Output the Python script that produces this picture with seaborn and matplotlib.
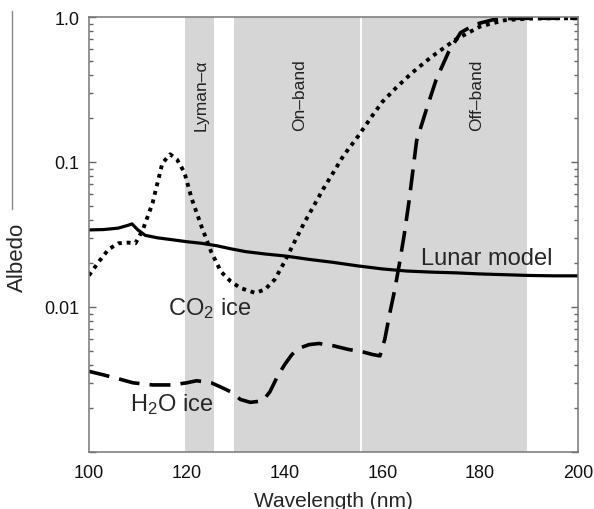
import matplotlib
matplotlib.use('Agg')
from matplotlib import pyplot as plt
from matplotlib import ticker
from matplotlib.lines import Line2D
import numpy as np
import seaborn as sns

# data (wavelength in nm, albedo)
lunar_wl = [100, 103, 106, 108, 108.8, 110, 111.5, 114, 117, 120, 123, 126, 129, 132, 136,
            140, 145, 150, 155, 160, 165, 170, 175, 180, 185, 190, 195, 200]
lunar_alb = [0.0340, 0.0342, 0.0350, 0.0366, 0.0374, 0.0340, 0.0312, 0.0300, 0.0291, 0.0282,
             0.0275, 0.0265, 0.0252, 0.0241, 0.0232, 0.0225, 0.0213, 0.0203, 0.0192, 0.0183,
             0.0177, 0.0174, 0.0172, 0.0169, 0.0167, 0.0165, 0.0164, 0.0164]

co2_wl = [100, 102, 104, 106, 108, 109.5, 111, 113, 115, 116.6, 118, 119.5, 121, 123, 125, 127,
          129, 131, 134, 136, 138, 140, 142, 144, 146, 148, 150, 152, 155, 158, 160, 163, 166,
          170, 175, 180, 185, 190, 195, 200]
co2_alb = [0.0165, 0.0205, 0.025, 0.0275, 0.0278, 0.0275, 0.034, 0.052, 0.098, 0.113, 0.104,
           0.085, 0.056, 0.036, 0.024, 0.0175, 0.015, 0.0135, 0.0125, 0.0132, 0.0155, 0.0205,
           0.028, 0.038, 0.05, 0.066, 0.085, 0.11, 0.15, 0.21, 0.26, 0.33, 0.41, 0.53, 0.70,
           0.86, 0.95, 0.975, 0.98, 0.98]

h2o_wl = [100, 103, 106, 109, 113, 117, 120, 122, 125, 127, 129, 131, 133, 135.5, 137, 138.5,
          140, 141.5, 143, 145, 147, 150, 153, 156, 158, 159.5, 160.5, 161.5, 162.5, 163.5,
          164.5, 165.5, 167, 169, 171, 173.5, 176, 179, 182.5, 185.5, 188, 192, 196, 200]
h2o_alb = [0.0036, 0.0034, 0.0032, 0.0030, 0.0029, 0.0029, 0.0030, 0.0031, 0.0030, 0.0028,
           0.0026, 0.0023, 0.0022, 0.00225, 0.0026, 0.0033, 0.0040, 0.0047, 0.0052, 0.0055,
           0.0056, 0.0054, 0.0051, 0.0049, 0.0047, 0.0046, 0.006, 0.009, 0.013, 0.020, 0.032,
           0.055, 0.14, 0.23, 0.37, 0.57, 0.78, 0.89, 0.955, 0.975, 0.98, 0.98, 0.98, 0.98]

band_names = ['Lyman\u2013\u03b1', 'On\u2013band', 'Off\u2013band']
band_lo = [119.57, 129.57, 155.57]
band_hi = [125.57, 155.57, 189.57]
band_text_x = [123.0, 143.1, 179.3]

x_ticks = [100, 120, 140, 160, 180, 200]
y_ticks = [0.01, 0.1, 1.0]
y_ticklabels = ['0.01', '0.1', '1.0']

sns.set_style("ticks")
plt.rcParams['font.family'] = ['Liberation Sans', 'DejaVu Sans']
plt.rcParams['mathtext.default'] = 'regular'

fig = plt.figure(figsize=(5.94, 5.1), dpi=100)
ax = fig.add_axes([0.1498, 0.1118, 0.8232, 0.8529])

# shaded instrument bands
for lo, hi in zip(band_lo, band_hi):
    ax.axvspan(lo, hi, color='#d6d6d6', lw=0, zorder=0)
ax.axvline(155.57, color='white', lw=1.3, zorder=0.5)

sns.lineplot(x=lunar_wl, y=lunar_alb, ax=ax, color='black', lw=2.3, estimator=None, sort=False)
sns.lineplot(x=co2_wl, y=co2_alb, ax=ax, color='black', lw=2.8, estimator=None, sort=False,
             linestyle=(0, (1.0, 1.25)))
sns.lineplot(x=h2o_wl, y=h2o_alb, ax=ax, color='black', lw=2.6, estimator=None, sort=False,
             linestyle=(0, (5.8, 2.8)))

ax.set_yscale('log')
ax.set_xlim(100, 200)
ax.set_ylim(0.001, 1.0)

ax.set_xticks(x_ticks)
ax.set_xticklabels([str(t) for t in x_ticks])
ax.yaxis.set_major_locator(ticker.FixedLocator([0.001] + y_ticks))
ax.yaxis.set_major_formatter(ticker.FixedFormatter([''] + y_ticklabels))
ax.yaxis.set_minor_locator(ticker.LogLocator(base=10, subs=np.arange(2, 10)))
ax.yaxis.set_minor_formatter(ticker.NullFormatter())

ax.tick_params(axis='x', length=0, labelsize=13, pad=9, colors='#111111')
ax.tick_params(axis='y', which='major', direction='in', length=5, width=1, color='#666666',
               labelsize=13, pad=7, right=True, labelcolor='#111111')
ax.tick_params(axis='y', which='minor', direction='in', length=3, width=1, color='#666666',
               right=True)
for s in ax.spines.values():
    s.set_visible(True)
    s.set_color('#777777')
    s.set_linewidth(1.1)

ax.set_xlabel('Wavelength (nm)', fontsize=15, labelpad=7)
ax.set_ylabel('Albedo', fontsize=16)
ax.yaxis.set_label_coords(-0.124, 0.45)

for name, xt in zip(band_names, band_text_x):
    ax.text(xt, 0.823, name, transform=ax.get_xaxis_transform(), rotation=90,
            ha='center', va='center', fontsize=12.5, color='#222222')

ax.text(168.0, 0.0198, 'Lunar model', fontsize=17, ha='left', va='baseline')
ax.text(116.2, 0.00895, 'CO$_2$ ice', fontsize=17, ha='left', va='baseline')
ax.text(108.4, 0.00196, 'H$_2$O ice', fontsize=17, ha='left', va='baseline')

# thin rule at the left margin, as on the page
fig.add_artist(Line2D([12 / 594, 12 / 594], [1 - 12 / 510, 1 - 210 / 510],
                      color='#888888', lw=1.0))

fig.savefig('out.png', dpi=100)
